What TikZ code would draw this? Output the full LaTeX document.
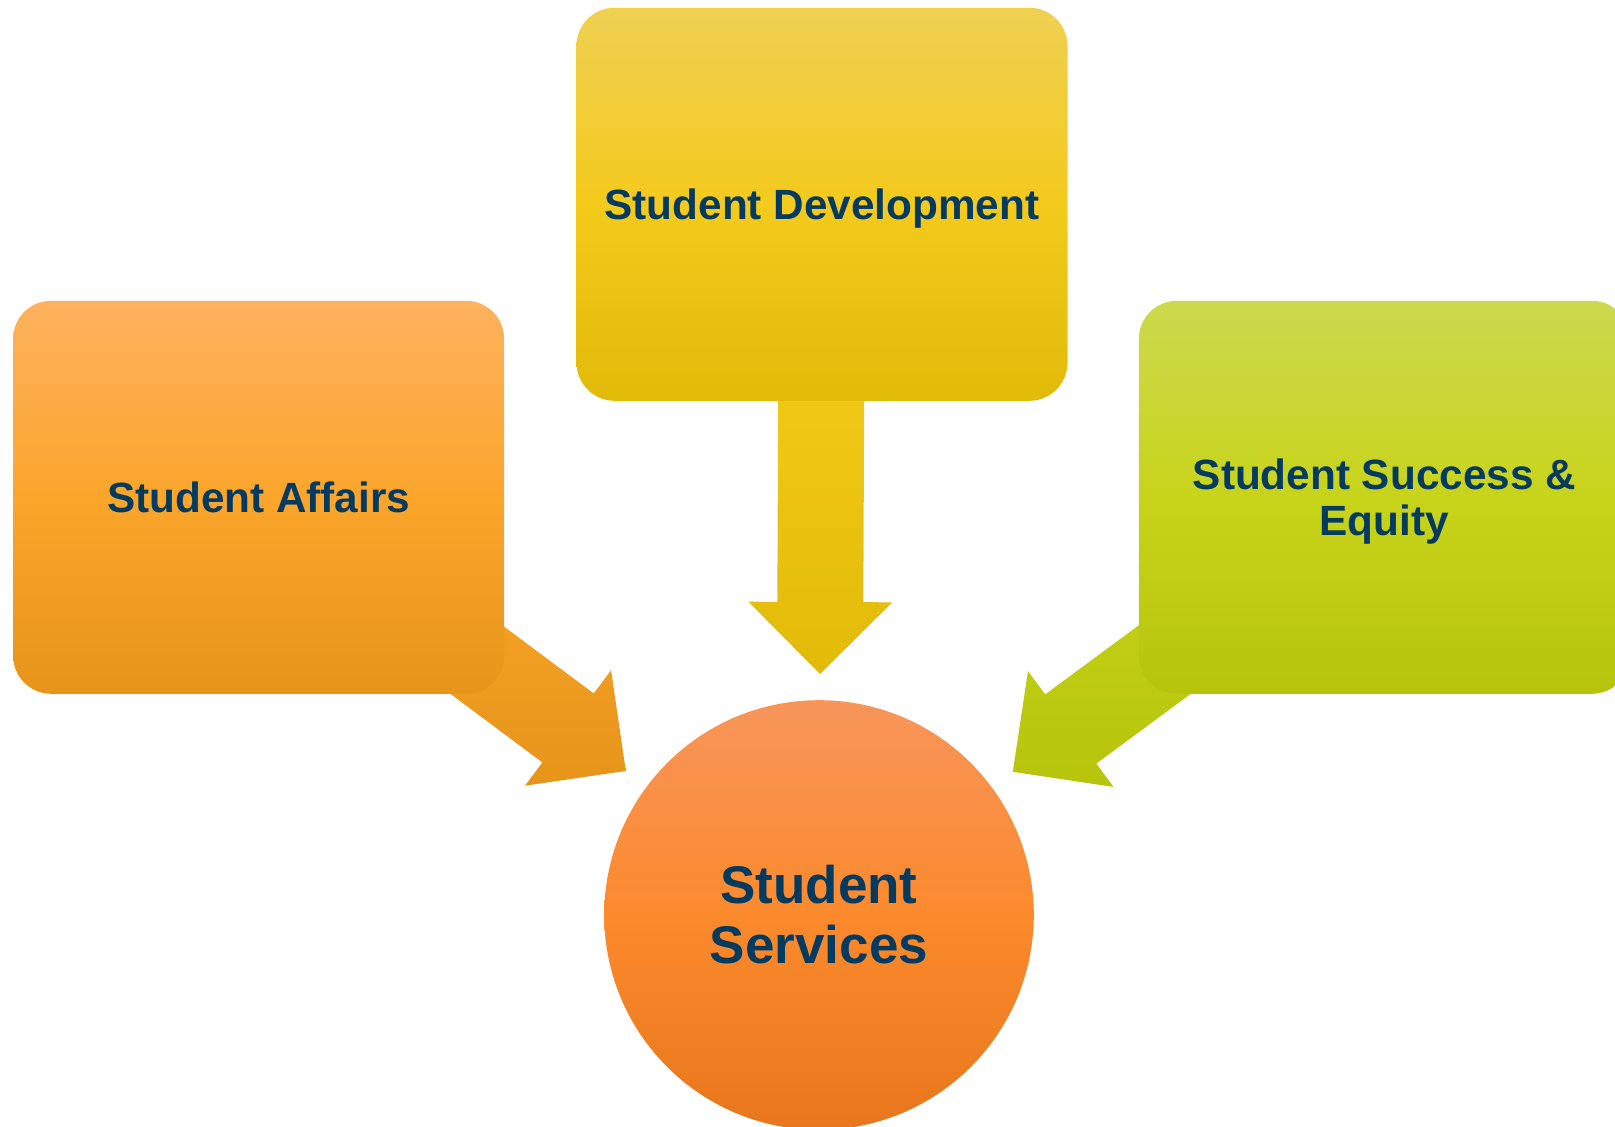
\documentclass[tikz,border=0pt]{standalone}
\usepackage{fontspec}
\setmainfont{Liberation Sans}
\usepackage{xcolor}
\definecolor{ink}{HTML}{023A60}
\definecolor{affTop}{HTML}{FEB25E}
\definecolor{affMid}{HTML}{FBA52B}
\definecolor{affBot}{HTML}{E6941A}
\definecolor{devTop}{HTML}{EFD052}
\definecolor{devMid}{HTML}{F4CA1D}
\definecolor{devBot}{HTML}{E2BA08}
\definecolor{equTop}{HTML}{CDD94E}
\definecolor{equMid}{HTML}{C8D41A}
\definecolor{equBot}{HTML}{B6C40C}
\definecolor{servTop}{HTML}{F7955A}
\definecolor{servMid}{HTML}{FC8A2D}
\definecolor{servBot}{HTML}{E8761C}
% arrow colours
\definecolor{affArr}{HTML}{FFAC2E}
\definecolor{devArr}{HTML}{FAD21E}
\definecolor{equArr}{HTML}{CCD81E}
\usepackage{tikz}
\usetikzlibrary{calc}
\usetikzlibrary{backgrounds}
\usetikzlibrary{positioning}
\tikzstyle{block} = [rectangle, rounded corners=38pt, text=ink,
    minimum width=491pt, minimum height=393pt, inner sep=0pt, align=center,
    text depth=0pt, font=\bfseries\fontsize{42.3}{46.5}\selectfont]
\tikzstyle{hub} = [circle, text=ink, minimum size=429.6pt, inner sep=0pt,
    align=center, font=\bfseries\fontsize{53}{60}\selectfont]
% fat arrow from a box towards the hub
\newcommand{\fatarrow}[3]{%
  \coordinate (#1tip) at ($(serv.center)!241pt!(#1.center)$);
  \coordinate (#1head) at ($(serv.center)!313pt!(#1.center)$);
  \path [top color=#2, bottom color=#3]
    (#1tip) -- ($(#1head)!72pt!90:(#1.center)$) -- ($(#1head)!43pt!90:(#1.center)$)
    -- ($(#1.center)!43pt!-90:(serv.center)$) -- ($(#1.center)!43pt!90:(serv.center)$)
    -- ($(#1head)!43pt!-90:(#1.center)$) -- ($(#1head)!72pt!-90:(#1.center)$) -- cycle;}

\begin{document}
\begin{tikzpicture}[x=1pt,y=1pt]
    \useasboundingbox (0,0) rectangle (1615,1127);
    \clip (0,0) rectangle (1615,1127);
    % Place nodes
    \node [hub, top color=servTop, bottom color=servBot, middle color=servMid] (serv) at (819,212) {Student\\Services};
    \node [block, top color=devTop, bottom color=devBot, middle color=devMid, above=299pt of serv, xshift=3pt] (dev) {Student Development};
    \node [block, top color=affTop, bottom color=affBot, middle color=affMid, left=72pt of dev, yshift=-293pt] (aff) {Student Affairs};
    \node [block, top color=equTop, bottom color=equBot, middle color=equMid, right=71pt of dev, yshift=-293pt] (equ) {Student Success \&\\Equity};

    % Draw edges
    \begin{scope}[on background layer]
    \fill [white] (0,0) rectangle (1615,1127);
    \fatarrow{aff}{affArr}{affBot}
    \fatarrow{dev}{devArr}{devBot}
    \fatarrow{equ}{equArr}{equBot}
    \end{scope}
\end{tikzpicture}
\end{document}
